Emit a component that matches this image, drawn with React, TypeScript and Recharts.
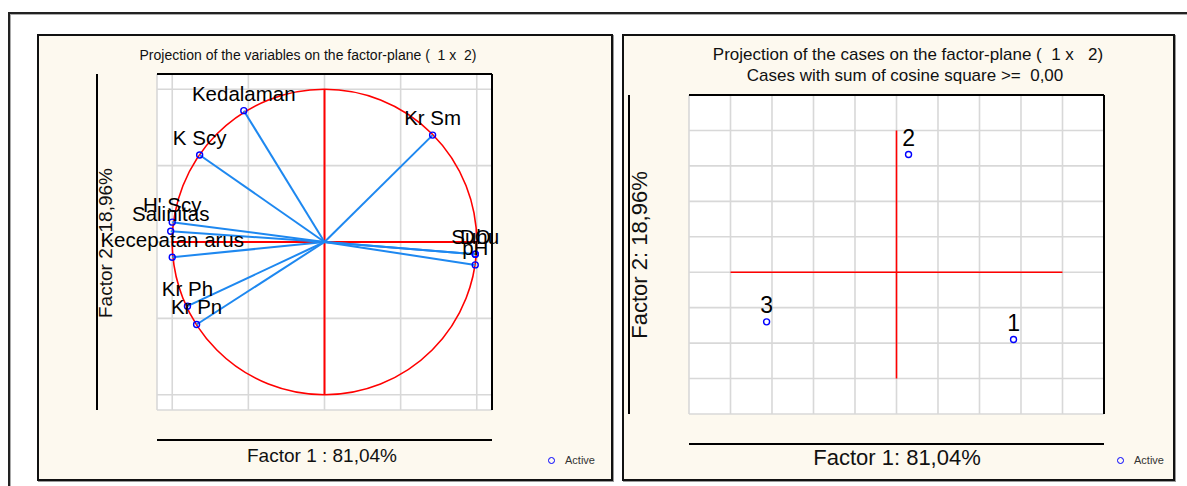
import React from "react";
import {
  ScatterChart,
  Scatter,
  XAxis,
  YAxis,
  CartesianGrid,
  ReferenceLine,
  ReferenceArea,
} from "recharts";

// variables (loadings on factor 1 / factor 2)
const varNames = ["Kedalaman", "K Scy", "H' Scy", "Salinitas", "Kecepatan arus", "Kr Ph", "Kr Pn", "Kr Sm", "Suhu", "DO", "pH"];
const varFactor1 = [-0.53, -0.82, -1.0, -1.01, -1.0, -0.9, -0.84, 0.71, 0.99, 0.99, 0.99];
const varFactor2 = [0.86, 0.57, 0.13, 0.07, -0.1, -0.42, -0.54, 0.7, -0.08, -0.08, -0.15];

// cases (scores)
const caseNames = ["1", "2", "3"];
const caseFactor1 = [2.82, 0.29, -3.13];
const caseFactor2 = [-0.95, 1.66, -0.7];

// tick labels
const varTicks = [-1, -0.5, 0, 0.5, 1];
const caseXTicks = [-5, -4, -3, -2, -1, 0, 1, 2, 3, 4, 5];
const caseYTicks = [-2, -1.5, -1, -0.5, 0, 0.5, 1, 1.5, 2, 2.5];

const varData = varNames.map((name, i) => ({ name, x: varFactor1[i], y: varFactor2[i] }));
const caseData = caseNames.map((name, i) => ({ name, x: caseFactor1[i], y: caseFactor2[i] }));

// minor tick positions along the frame
const steps = (from: number, to: number, step: number) => {
  const out: number[] = [];
  for (let v = from; v <= to + 1e-9; v += step) out.push(Math.round(v * 1000) / 1000);
  return out;
};
const varMinor = steps(-1.1, 1.1, 0.1);
const caseXMinor = steps(-5, 5, 0.25);
const caseYMinor = steps(-2, 2.5, 0.1);

const FONT = '"Liberation Sans", Arial, sans-serif';
const RED = "#ff0000";
const BLUE = "#1e88f0";
const GRID = "#d8d8d8";
const PANEL_BG = "#fdf9ef";

const comma1 = (v: number) => (Math.abs(v) < 1e-9 ? "0,0" : v.toFixed(1).replace(".", ","));
const plain = (v: number) => String(v);
const isIn = (list: number[], v: number) => list.some((m) => Math.abs(m - v) < 1e-6);

type Side = "bottom" | "top" | "left" | "right";

// inward minor tick mark, plus the label when the value is a major tick
const tick = (side: Side, major: number[] = [], fmt?: (v: number) => string, size = 12) => (p: any) => {
  const len = 3.5;
  const v = p.payload.value;
  const d = { bottom: [0, -len], top: [0, len], left: [len, 0], right: [-len, 0] }[side];
  let label = null;
  if (fmt && isIn(major, v)) {
    label =
      side === "bottom" ? (
        <text x={p.x} y={p.y + size + 5} textAnchor="middle" fontSize={size} fill="#111" fontFamily={FONT}>
          {fmt(v)}
        </text>
      ) : (
        <text x={p.x - 7} y={p.y + size * 0.36} textAnchor="end" fontSize={size} fill="#111" fontFamily={FONT}>
          {fmt(v)}
        </text>
      );
  }
  return (
    <g>
      <line x1={p.x} y1={p.y} x2={p.x + d[0]} y2={p.y + d[1]} stroke="#000" strokeWidth={1} />
      {label}
    </g>
  );
};

const labelledDot = (size: number, lift: number) => (p: any) => (
  <g>
    <circle cx={p.cx} cy={p.cy} r={3} fill="none" stroke="#0000ff" strokeWidth={1.4} />
    <text x={p.cx} y={p.cy - lift} textAnchor="middle" fontSize={size} fill="#000" fontFamily={FONT}>
      {p.payload.name}
    </text>
  </g>
);

const unitCircle = (p: any) => (
  <ellipse
    cx={p.x + p.width / 2}
    cy={p.y + p.height / 2}
    rx={Math.abs(p.width) / 2}
    ry={Math.abs(p.height) / 2}
    fill="none"
    stroke={RED}
    strokeWidth={1.6}
  />
);

const frame = { stroke: "#000", strokeWidth: 2 };

// default (hidden) axes carry the data and the grid at major ticks;
// the visible frame axes carry the minor ticks and the labels
function axes(
  xDomain: [number, number],
  yDomain: [number, number],
  xTicks: number[],
  yTicks: number[],
  xMinor: number[],
  yMinor: number[],
  xFmt: (v: number) => string,
  yFmt: (v: number) => string,
  size: number
) {
  const common = { type: "number" as const, interval: 0, tickLine: false, tickSize: 0, tickMargin: 0, axisLine: frame };
  return [
    <XAxis key="xg" dataKey="x" type="number" domain={xDomain} ticks={xTicks} interval={0} hide />,
    <YAxis key="yg" dataKey="y" type="number" domain={yDomain} ticks={yTicks} interval={0} hide />,
    <XAxis key="xb" xAxisId="b" {...common} domain={xDomain} ticks={xMinor} height={1} tick={tick("bottom", xTicks, xFmt, size)} />,
    <XAxis key="xt" xAxisId="t" orientation="top" {...common} domain={xDomain} ticks={xMinor} height={1} tick={tick("top")} />,
    <YAxis key="yl" yAxisId="l" {...common} domain={yDomain} ticks={yMinor} width={1} tick={tick("left", yTicks, yFmt, size)} />,
    <YAxis key="yr" yAxisId="r" orientation="right" {...common} domain={yDomain} ticks={yMinor} width={1} tick={tick("right")} />,
  ];
}

const varDomain: [number, number] = [-1.1, 1.1];
const caseXDomain: [number, number] = [-5, 5];
const caseYDomain: [number, number] = [-2, 2.5];

function VariablesPlane() {
  return (
    <ScatterChart width={576} height={447} margin={{ top: 39, right: 120, bottom: 70, left: 119 }}>
      <CartesianGrid fill="#fff" stroke={GRID} strokeWidth={1.6} />
      {axes(varDomain, varDomain, varTicks, varTicks, varMinor, varMinor, comma1, comma1, 13)}
      <ReferenceArea x1={-1} x2={1} y1={-1} y2={1} ifOverflow="visible" shape={unitCircle} />
      <ReferenceLine segment={[{ x: 0, y: -1 }, { x: 0, y: 1 }]} stroke={RED} strokeWidth={2} />
      <ReferenceLine segment={[{ x: -1, y: 0 }, { x: 1, y: 0 }]} stroke={RED} strokeWidth={2} />
      {varData.map((d) => (
        <ReferenceLine key={d.name} segment={[{ x: 0, y: 0 }, { x: d.x, y: d.y }]} stroke={BLUE} strokeWidth={2} />
      ))}
      <Scatter name="Active" data={varData} shape={labelledDot(20.5, 10)} isAnimationActive={false} />
    </ScatterChart>
  );
}

function CasesPlane() {
  return (
    <ScatterChart width={553} height={447} margin={{ top: 60, right: 70, bottom: 66, left: 66 }}>
      <CartesianGrid fill="#fff" stroke={GRID} strokeWidth={1.6} />
      {axes(caseXDomain, caseYDomain, caseXTicks, caseYTicks, caseXMinor, caseYMinor, plain, comma1, 14)}
      <ReferenceLine segment={[{ x: -4, y: 0 }, { x: 4, y: 0 }]} stroke={RED} strokeWidth={1.6} />
      <ReferenceLine segment={[{ x: 0, y: -1.5 }, { x: 0, y: 2 }]} stroke={RED} strokeWidth={1.6} />
      <Scatter name="Active" data={caseData} shape={labelledDot(23, 9)} isAnimationActive={false} />
    </ScatterChart>
  );
}

const abs = (left: number, top: number, extra: React.CSSProperties = {}): React.CSSProperties => ({
  position: "absolute",
  left,
  top,
  ...extra,
});

function Caption({ x, y, size, text, rotate = false }: { x: number; y: number; size: number; text: string; rotate?: boolean }) {
  return (
    <div
      style={abs(x, y, {
        transform: `translate(-50%, -50%)${rotate ? " rotate(-90deg)" : ""}`,
        fontSize: size,
        whiteSpace: "pre",
        color: "#111",
        lineHeight: 1,
      })}
    >
      {text}
    </div>
  );
}

function LegendKey({ x, y }: { x: number; y: number }) {
  return (
    <div style={abs(x, y, { display: "flex", alignItems: "center", fontSize: 11, color: "#333" })}>
      <span style={{ width: 5, height: 5, border: "1.5px solid #0000ff", borderRadius: "50%", marginRight: 10 }} />
      Active
    </div>
  );
}

export default function App() {
  const panel = (left: number, width: number): React.CSSProperties =>
    abs(left, 34, {
      width,
      height: 447,
      boxSizing: "border-box",
      border: "2px solid #111",
      background: PANEL_BG,
      boxShadow: "1px 1px 0 #999",
    });
  return (
    <div style={abs(0, 0, { width: 1187, height: 486, background: "#fff", overflow: "hidden", fontFamily: FONT })}>
      <div style={abs(8, 12, { width: 1200, height: 500, borderLeft: "2px solid #222", borderTop: "2px solid #222", boxShadow: "inset 1px 1px 0 #aaa" })} />

      <div style={panel(37, 576)} />
      <div style={abs(37, 34)}>
        <VariablesPlane />
      </div>
      <Caption x={308} y={55} size={14} text="Projection of the variables on the factor-plane (  1 x  2)" />
      <Caption x={322} y={455} size={19} text="Factor 1 : 81,04%" />
      <Caption x={105} y={243} size={19} text="Factor 2 : 18,96%" rotate />
      <LegendKey x={548} y={454} />

      <div style={panel(622, 553)} />
      <div style={abs(622, 34)}>
        <CasesPlane />
      </div>
      <Caption x={908} y={54} size={17} text="Projection of the cases on the factor-plane (  1 x   2)" />
      <Caption x={905} y={75} size={17} text="Cases with sum of cosine square >=  0,00" />
      <Caption x={897} y={458} size={22} text="Factor 1: 81,04%" />
      <Caption x={640} y={255} size={22} text="Factor 2: 18,96%" rotate />
      <LegendKey x={1117} y={454} />
    </div>
  );
}
